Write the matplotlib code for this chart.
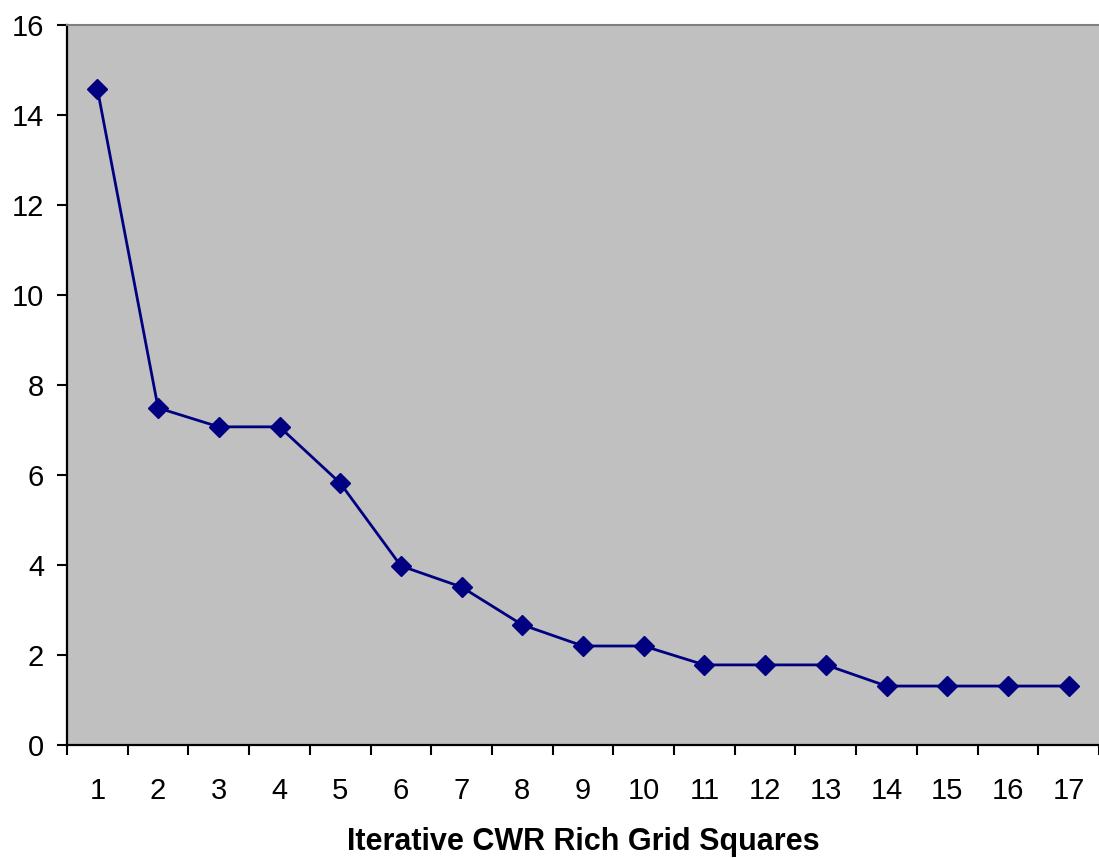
import matplotlib
matplotlib.use("Agg")
import matplotlib.pyplot as plt
from matplotlib.ticker import FixedLocator, NullFormatter

categories = list(range(1, 18))
values = [14.58, 7.49, 7.07, 7.07, 5.82, 3.98, 3.51, 2.67, 2.2, 2.2,
          1.78, 1.78, 1.78, 1.31, 1.31, 1.31, 1.31]
xlabel = "Iterative CWR Rich Grid Squares"

plt.rcParams['font.family'] = ['Liberation Sans', 'DejaVu Sans']

fig = plt.figure(figsize=(10.99, 8.58), dpi=100)
ax = fig.add_axes([0.061, 0.1317, 0.939, 0.8392])
ax.set_facecolor('#C0C0C0')

ax.plot(categories, values, color='#000080', linewidth=2.0, marker='D',
        markersize=10.5, markerfacecolor='#000080', markeredgecolor='#000080', zorder=3)

ax.set_xlim(0.5, len(categories) + 0.5)
ax.set_ylim(0, 16)
ax.set_yticks(range(0, 17, 2))
ax.xaxis.set_major_locator(FixedLocator([i + 0.5 for i in range(0, len(categories) + 1)]))
ax.xaxis.set_major_formatter(NullFormatter())
ax.xaxis.set_minor_locator(FixedLocator(categories))
ax.set_xticklabels([str(c) for c in categories], minor=True)
ax.tick_params(axis='x', which='minor', length=0, pad=23, labelsize=21)
ax.tick_params(axis='x', which='major', direction='out', length=7.5, width=1.5)
ax.tick_params(axis='y', direction='out', length=7.5, width=1.5, labelsize=21, pad=9)

for s in ['left', 'bottom']:
    ax.spines[s].set_linewidth(1.6)
    ax.spines[s].set_color('black')
ax.spines['top'].set_color('#808080')
ax.spines['top'].set_linewidth(1.5)
ax.spines['right'].set_visible(False)

ax.set_xlabel(xlabel, fontsize=22, fontweight='bold', labelpad=16)

fig.savefig('out.png', dpi=100)
